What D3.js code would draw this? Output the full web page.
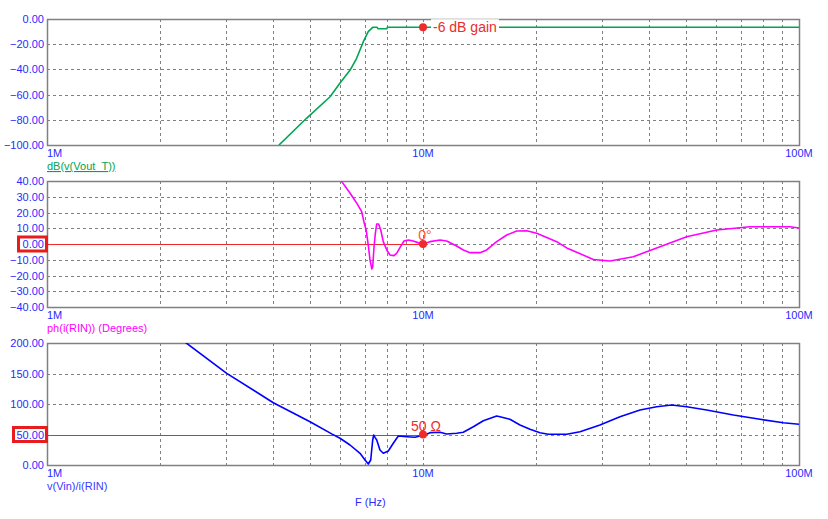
<!DOCTYPE html>
<html><head><meta charset="utf-8">
<script src="https://cdn.jsdelivr.net/npm/d3@7"></script>
<style>
html,body{margin:0;padding:0;background:#fff;}
svg{display:block;font-family:Arial,"Liberation Sans",sans-serif;}
</style></head>
<body><svg id="c" width="828" height="519"></svg>
<script>
// ---- Data (frequency in MHz) ----
const gainFreq = [4.14, 4.90, 5.66, 6.01, 6.40, 6.66, 6.94, 7.15, 7.35, 7.55, 7.59, 8.01, 8.04, 10.0, 100];
const gainDb   = [-100, -78.8, -61.7, -51.0, -40.5, -31.2, -18.0, -10.0, -6.6, -6.6, -7.7, -7.7, -6.5, -6.5, -6.5];

const phaseFreq = [5.95, 6.08, 6.40, 6.67, 6.87, 6.98, 7.06, 7.16, 7.23, 7.31, 7.35, 7.41, 7.47, 7.53, 7.62, 7.72, 7.84,
  8.01, 8.17, 8.37, 8.51, 8.69, 8.90, 9.14, 9.42, 9.82, 10.0, 10.44, 11.10, 11.56, 12.29, 12.80, 13.34, 14.18, 14.77,
  15.70, 16.70, 17.75, 18.87, 20.06, 22.68, 24.11, 25.63, 28.38, 31.43, 36.25, 42.69, 50.27, 60.40, 74.06, 94.65, 100];
const phaseDeg  = [45, 39.6, 32.2, 25.8, 20.5, 13.1, 8.9, -1.7, -10.2, -15.9, -14.4, -1.7, 6.8, 12.7, 12.7, 8.9, 1.5,
  -3.8, -7.0, -7.4, -5.9, -2.1, 1.9, 2.5, 1.9, 0.4, 0, 1.5, 2.5, 1.9, -1.3, -3.8, -5.5, -5.5, -3.8,
  1.5, 5.7, 8.3, 8.4, 6.8, 1.5, -2.5, -5.2, -9.8, -10.8, -8.1, -1.7, 4.6, 8.9, 11.0, 11.0, 10.2];

const zFreq = [2.25, 2.352, 3.006, 3.999, 5.006, 5.717, 6.016, 6.396, 6.801, 7.011, 7.155, 7.260, 7.349, 7.394, 7.454, 7.532,
  7.684, 7.842, 8.086, 8.337, 8.597, 9.052, 9.522, 9.818, 10.0, 10.44, 11.10, 11.56, 12.29, 12.80, 13.61, 14.47, 15.70,
  16.02, 17.03, 18.11, 19.26, 20.47, 21.54, 24.11, 26.16, 29.56, 33.41, 37.77, 41.83, 45.85, 50.27, 56.82, 66.89, 78.76, 90.82, 100];
const zOhm  = [208, 199.5, 150.3, 102.1, 71.0, 51.0, 43.8, 32.8, 19.2, 8.2, 1.6, 8.2, 41, 49.2, 45.4, 41,
  24.6, 19.2, 23, 35.6, 47.5, 46.4, 45.4, 47.5, 48, 53, 53.6, 50.8, 52, 53.6, 62.8, 72.6, 80.3,
  79.2, 74.9, 65.6, 58.5, 53, 50.3, 50.3, 54.6, 65.6, 79.2, 90.2, 95.6, 98.4, 95.6, 90.2, 82, 74.9, 69.3, 66.7];

const xTickLabels = ["1M", "10M", "100M"];
const xTickValues = [1e6, 1e7, 1e8];
const gainTicks  = [0, -20, -40, -60, -80, -100];
const phaseTicks = [40, 30, 20, 10, 0, -10, -20, -30, -40];
const zTicks     = [200, 150, 100, 50, 0];
const markerFreq = 10; // MHz
const gainMarker = -6.5, phaseMarker = 0, zMarker = 50;

// ---- Layout ----
const svg = d3.select("#c");
const X0 = 47, X1 = 799;
const x = d3.scaleLog().domain([1e6, 1e8]).range([X0, X1]);
const gridColor = "#808080";
const tickColor = "#2a2aff";
const red = "#ee2a2a";

const panels = [
  {id:"g", top:19, bot:145, domain:[-100,0], ticks:gainTicks, freq:gainFreq, val:gainDb, color:"#00a551",
   label:"dB(v(Vout_T))", labelColor:"#00a551", underline:true},
  {id:"p", top:181, bot:307, domain:[-40,40], ticks:phaseTicks, freq:phaseFreq, val:phaseDeg, color:"#ff00ff",
   label:"ph(i(RIN)) (Degrees)", labelColor:"#ff00ff"},
  {id:"z", top:343, bot:465, domain:[0,200], ticks:zTicks, freq:zFreq, val:zOhm, color:"#0000ff",
   label:"v(Vin)/i(RIN)", labelColor:"#3a3aff"}
];

const minorTicks = [];
[1e6, 1e7].forEach(d => { for (let k = 2; k <= 9; k++) minorTicks.push(d * k); });

panels.forEach(p => {
  const y = d3.scaleLinear().domain(p.domain).range([p.bot, p.top]);
  p.y = y;
  const g = svg.append("g");
  svg.append("defs").append("clipPath").attr("id", "clip-" + p.id)
    .append("rect").attr("x", X0).attr("y", p.top).attr("width", X1 - X0).attr("height", p.bot - p.top);

  // vertical grid
  g.selectAll(".vg").data(minorTicks.concat([1e7])).enter().append("line")
    .attr("x1", d => Math.round(x(d)) + 0.5).attr("x2", d => Math.round(x(d)) + 0.5)
    .attr("y1", p.top).attr("y2", p.bot)
    .attr("stroke", gridColor).attr("stroke-width", 1).attr("stroke-dasharray", "3,3");
  // horizontal grid
  g.selectAll(".hg").data(p.ticks.filter(t => t !== p.domain[0] && t !== p.domain[1])).enter().append("line")
    .attr("x1", X0).attr("x2", X1)
    .attr("y1", d => Math.round(y(d)) + 0.5).attr("y2", d => Math.round(y(d)) + 0.5)
    .attr("stroke", gridColor).attr("stroke-width", 1).attr("stroke-dasharray", "3,3");
  // border
  g.append("rect").attr("x", X0 + 0.5).attr("y", p.top + 0.5).attr("width", X1 - X0).attr("height", p.bot - p.top)
    .attr("fill", "none").attr("stroke", gridColor).attr("stroke-width", 1.5);

  // y tick labels
  g.selectAll(".yt").data(p.ticks).enter().append("text")
    .attr("x", 44).attr("y", d => y(d) + 4).attr("text-anchor", "end")
    .attr("font-size", 11).attr("fill", tickColor).text(d => d3.format(".2f")(d));
  // x tick labels
  xTickValues.forEach((v, i) => {
    g.append("text").attr("x", i === 0 ? X0 : x(v)).attr("y", p.bot + 12)
      .attr("text-anchor", i === 0 ? "start" : "middle")
      .attr("font-size", 11).attr("fill", tickColor).text(xTickLabels[i]);
  });
  // series label
  const lt = g.append("text").attr("x", X0).attr("y", p.bot + 25).attr("font-size", 11)
    .attr("fill", p.labelColor).text(p.label);
  if (p.underline) lt.attr("text-decoration", "underline");
});

// reference red lines
[[panels[1], phaseMarker], [panels[2], zMarker]].forEach(([p, v]) => {
  svg.append("line").attr("x1", X0).attr("x2", x(markerFreq * 1e6))
    .attr("y1", Math.round(p.y(v)) + 0.5).attr("y2", Math.round(p.y(v)) + 0.5)
    .attr("stroke", red).attr("stroke-width", 1.2);
});

// curves
panels.forEach(p => {
  const data = p.freq.map((f, i) => [f * 1e6, p.val[i]]);
  svg.append("path").datum(data)
    .attr("clip-path", "url(#clip-" + p.id + ")")
    .attr("fill", "none").attr("stroke", p.color).attr("stroke-width", 1.6)
    .attr("stroke-linejoin", "round")
    .attr("d", d3.line().x(d => x(d[0])).y(d => p.y(d[1])));
});

// markers and annotations
const mx = x(markerFreq * 1e6);
// top marker
const gy = panels[0].y(gainMarker);
svg.append("rect").attr("x", mx + 8).attr("y", gy - 8).attr("width", 68).attr("height", 15).attr("fill", "#fff");
svg.append("text").attr("x", mx + 10).attr("y", gy + 5).attr("font-size", 14).attr("fill", red).text("-6 dB gain");
svg.append("circle").attr("cx", mx).attr("cy", gy).attr("r", 4).attr("fill", red);
// phase marker
const py = panels[1].y(phaseMarker);
svg.append("circle").attr("cx", mx).attr("cy", py).attr("r", 4).attr("fill", red);
svg.append("text").attr("x", mx + 2).attr("y", py - 4).attr("text-anchor", "middle").attr("font-size", 14)
  .attr("fill", "#ff5533").text("0°");
// impedance marker
const zy = panels[2].y(zMarker);
svg.append("circle").attr("cx", mx).attr("cy", zy).attr("r", 4).attr("fill", red);
svg.append("text").attr("x", mx + 3).attr("y", zy - 4).attr("text-anchor", "middle").attr("font-size", 14)
  .attr("fill", red).text("50 Ω");

// red boxes around highlighted tick labels
[[panels[1], phaseMarker, 18.5, 28], [panels[2], zMarker, 13.5, 33]].forEach(([p, v, bx, bw]) => {
  svg.append("rect").attr("x", bx).attr("y", p.y(v) - 7).attr("width", bw).attr("height", 14)
    .attr("fill", "none").attr("stroke", "#e81c1c").attr("stroke-width", 3);
});

// x axis title
svg.append("text").attr("x", 355).attr("y", 506).attr("font-size", 11).attr("fill", tickColor).text("F (Hz)");
</script></body></html>
